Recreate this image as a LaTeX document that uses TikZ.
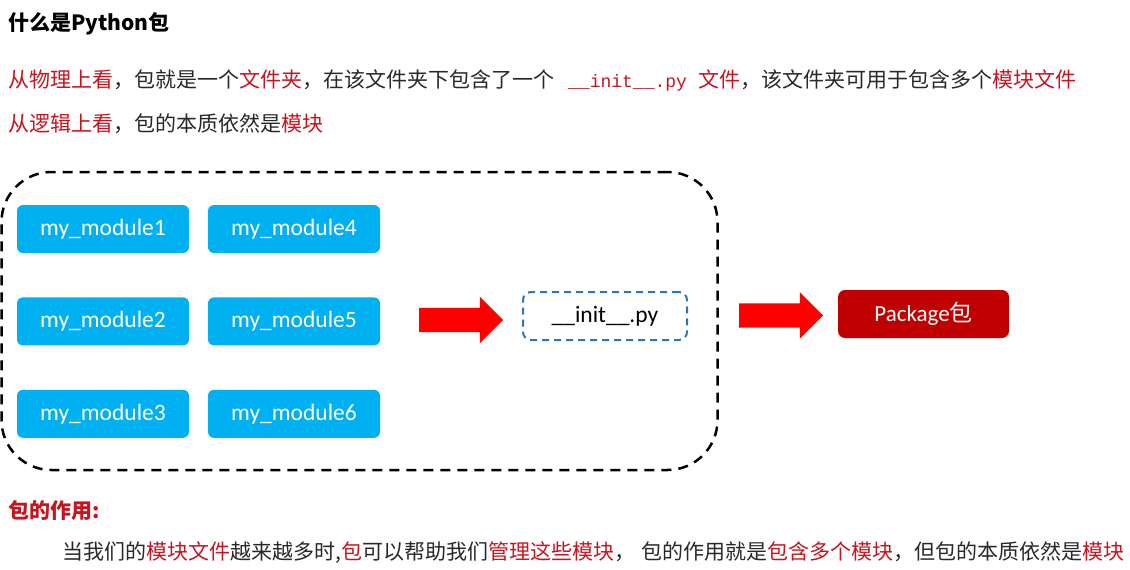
\documentclass[tikz,border=0pt]{standalone}
\usepackage{fontspec}
\setmainfont{Noto Sans CJK SC}
\setmonofont{Liberation Mono}
\newfontfamily\calibri{Carlito}
\usetikzlibrary{positioning, shapes.arrows}
\definecolor{modblue}{HTML}{00B0F0}
\definecolor{pkgred}{HTML}{C00000}
\definecolor{hlred}{RGB}{200,20,30}
\definecolor{initblue}{HTML}{2E75B6}
\definecolor{bodytext}{RGB}{40,40,40}
\newcommand{\hl}[1]{\textcolor{hlred}{#1}}

\begin{document}
\begin{tikzpicture}[
        x=1pt, y=-1pt,
        every node/.style={inner sep=0pt},
        bodyline/.style={anchor=west, text=bodytext, font=\fontsize{21}{25}\selectfont},
        headline/.style={anchor=west, font=\fontsize{21}{25}\selectfont\bfseries},
        modbox/.style={fill=modblue, rounded corners=6pt, minimum width=172pt, minimum height=48pt, text=white, font=\calibri\fontsize{23.5}{27}\selectfont},
        redarrow/.style={single arrow, fill=red, inner xsep=0pt, inner ysep=12pt, minimum height=84pt, single arrow head extend=11pt},
        initbox/.style={draw=initblue, line width=2pt, dash pattern=on 7pt off 5pt, rounded corners=8pt, minimum width=164pt, minimum height=48pt, font=\calibri\fontsize{23.5}{27}\selectfont},
        pkgbox/.style={fill=pkgred, rounded corners=7pt, minimum width=171pt, minimum height=48pt, text=white, font=\fontsize{23}{27}\selectfont}
    ]
    \useasboundingbox (0,0) rectangle (1130,570);

    % --- Header text ---
    \node[headline, text=black] (title) at (8,24) {什么是Python包};
    \node[bodyline] (physline) at (8,80) {\hl{从物理上看}，包就是一个\hl{文件夹}，在该文件夹下包含了一个\hspace{14pt}\hl{\texttt{\fontsize{18}{22}\selectfont\_\_init\_\_.py}}\hspace{11pt}\hl{文件}，该文件夹可用于包含多个\hl{模块文件}};
    \node[bodyline] (logicline) at (8,124) {\hl{从逻辑上看}，包的本质依然是\hl{模块}};

    % --- Package folder ---
    \node[draw, line width=2.5pt, dash pattern=on 10pt off 7pt, rounded corners=50pt, minimum width=716pt, minimum height=298pt] (folder) at (359.5,321) {};

    % modules
    \node[modbox] (mod1) at (103,229) {my\_module1};
    \node[modbox, below=44pt of mod1] (mod2) {my\_module2};
    \node[modbox, below=44pt of mod2] (mod3) {my\_module3};
    \node[modbox] (mod4) at (294,229) {my\_module4};
    \node[modbox, below=44pt of mod4] (mod5) {my\_module5};
    \node[modbox, below=44pt of mod5] (mod6) {my\_module6};

    \node[redarrow] (arrowin) at (455,320) {};
    \node[initbox] (init) at (605,316) {\_\_init\_\_.py};

    % --- Result ---
    \node[redarrow] (arrowout) at (775,315.5) {};
    \node[pkgbox] (pkg) at (923.5,314) {{\calibri Package}包};

    % --- Bottom text ---
    \node[headline, text=hlred] (roletitle) at (8,511) {包的作用:};
    \node[bodyline] (roleline) at (62,553) {当我们的\hl{模块文件}越来越多时,\hl{包}可以帮助我们\hl{管理这些模块}，\hspace{6pt}包的作用就是\hl{包含多个模块}，但包的本质依然是\hl{模块}};
\end{tikzpicture}
\end{document}
